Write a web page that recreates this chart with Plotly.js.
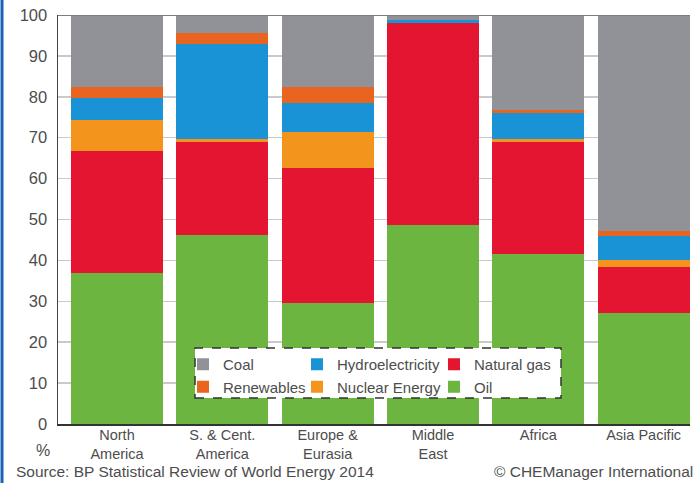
<!DOCTYPE html>
<html>
<head>
<meta charset="utf-8">
<script src="https://cdn.plot.ly/plotly-3.0.1.min.js"></script>
<style>
html,body{margin:0;padding:0;background:#fff;}
#chart{width:697px;height:483px;}
</style>
</head>
<body>
<div id="chart"></div>
<script>
var regions = ["North<br>America", "S. & Cent.<br>America", "Europe &<br>Eurasia", "Middle<br>East", "Africa", "Asia Pacific"];
var oil        = [36.8, 46.1, 29.6, 48.7, 41.6, 27.2];
var naturalGas = [29.9, 22.8, 33.0, 49.3, 27.4, 11.2];
var nuclear    = [7.7, 0.7, 8.9, 0.1, 0.8, 1.6];
var hydro      = [5.4, 23.3, 6.9, 0.6, 6.2, 6.0];
var renewables = [2.5, 2.8, 3.9, 0.1, 0.8, 1.3];
var coal       = [17.7, 4.3, 17.7, 1.2, 23.2, 52.7];
var yTicks = [0, 10, 20, 30, 40, 50, 60, 70, 80, 90, 100];

var W = 697, H = 483, L = 58, R = 7, T = 15, B = 59;
var pw = W - L - R, ph = H - T - B;
function px(x){ return (x - L) / pw; }
function py(y){ return (H - B - y) / ph; }

var FONT = "Liberation Sans, Arial, sans-serif";
var TXT = "#4d4d4d";

function bar(name, vals, color, legend){
  return {type: "bar", name: name, x: regions, y: vals,
    marker: {color: color, line: {width: 0}},
    legend: legend, hoverinfo: "name+y"};
}
var data = [
  bar("Oil", oil, "#6bb540", "legend3"),
  bar("Natural gas", naturalGas, "#e31531", "legend3"),
  bar("Nuclear Energy", nuclear, "#f3941c", "legend2"),
  bar("Hydroelectricity", hydro, "#1992d6", "legend2"),
  bar("Renewables", renewables, "#e9651f", "legend"),
  bar("Coal", coal, "#909297", "legend")
];

function leg(xpix){
  return {x: px(xpix), xanchor: "left", y: py(348), yanchor: "top",
    orientation: "v", traceorder: "reversed", bgcolor: "rgba(0,0,0,0)",
    borderwidth: 0, font: {family: FONT, size: 15, color: TXT},
    itemclick: false, itemdoubleclick: false};
}

var layout = {
  width: W, height: H,
  margin: {l: L, r: R, t: T, b: B, pad: 0},
  paper_bgcolor: "#fff", plot_bgcolor: "#fff",
  barmode: "stack", bargap: 0.126,
  showlegend: true,
  legend: leg(183), legend2: leg(297), legend3: leg(434),
  font: {family: FONT, color: TXT},
  xaxis: {
    type: "category", range: [-0.56, 5.44], fixedrange: true,
    showline: true, linecolor: "#333", linewidth: 2,
    ticks: "", showgrid: false, ticklabelstandoff: -3,
    tickfont: {family: FONT, size: 14.5, color: TXT}
  },
  yaxis: {
    range: [0, 100], tickvals: yTicks, fixedrange: true,
    showline: true, linecolor: "#444", linewidth: 1.5,
    ticks: "", ticklabelstandoff: 6,
    showgrid: true, gridcolor: "#c9c9c9", gridwidth: 1.5,
    zeroline: false,
    tickfont: {family: FONT, size: 16.5, color: TXT}
  },
  shapes: [
    {type: "line", xref: "paper", yref: "paper", x0: px(2), x1: px(2), y0: py(H), y1: py(0),
     line: {color: "#1b5fb6", width: 3}},
    {type: "line", xref: "paper", yref: "y", x0: 0, x1: 1, y0: 100, y1: 100,
     line: {color: "#7d7d7d", width: 2}, layer: "above"},
    {type: "rect", xref: "paper", yref: "paper", x0: px(195), x1: px(561), y0: py(398), y1: py(348),
     fillcolor: "#fff", line: {color: "#333", width: 1.5, dash: "dash"}, layer: "above"}
  ],
  annotations: [
    {text: "%", xref: "paper", yref: "paper", x: px(43), y: py(450), xanchor: "center", yanchor: "middle",
     showarrow: false, font: {family: FONT, size: 16, color: TXT}},
    {text: "Source: BP Statistical Review of World Energy 2014", xref: "paper", yref: "paper",
     x: px(14), y: py(471), xanchor: "left", yanchor: "middle",
     showarrow: false, font: {family: FONT, size: 15.5, color: TXT}},
    {text: "© CHEManager International", xref: "paper", yref: "paper",
     x: px(695), y: py(471), xanchor: "right", yanchor: "middle",
     showarrow: false, font: {family: FONT, size: 15.5, color: TXT}}
  ]
};

Plotly.newPlot("chart", data, layout, {displayModeBar: false, staticPlot: true});
</script>
</body>
</html>
